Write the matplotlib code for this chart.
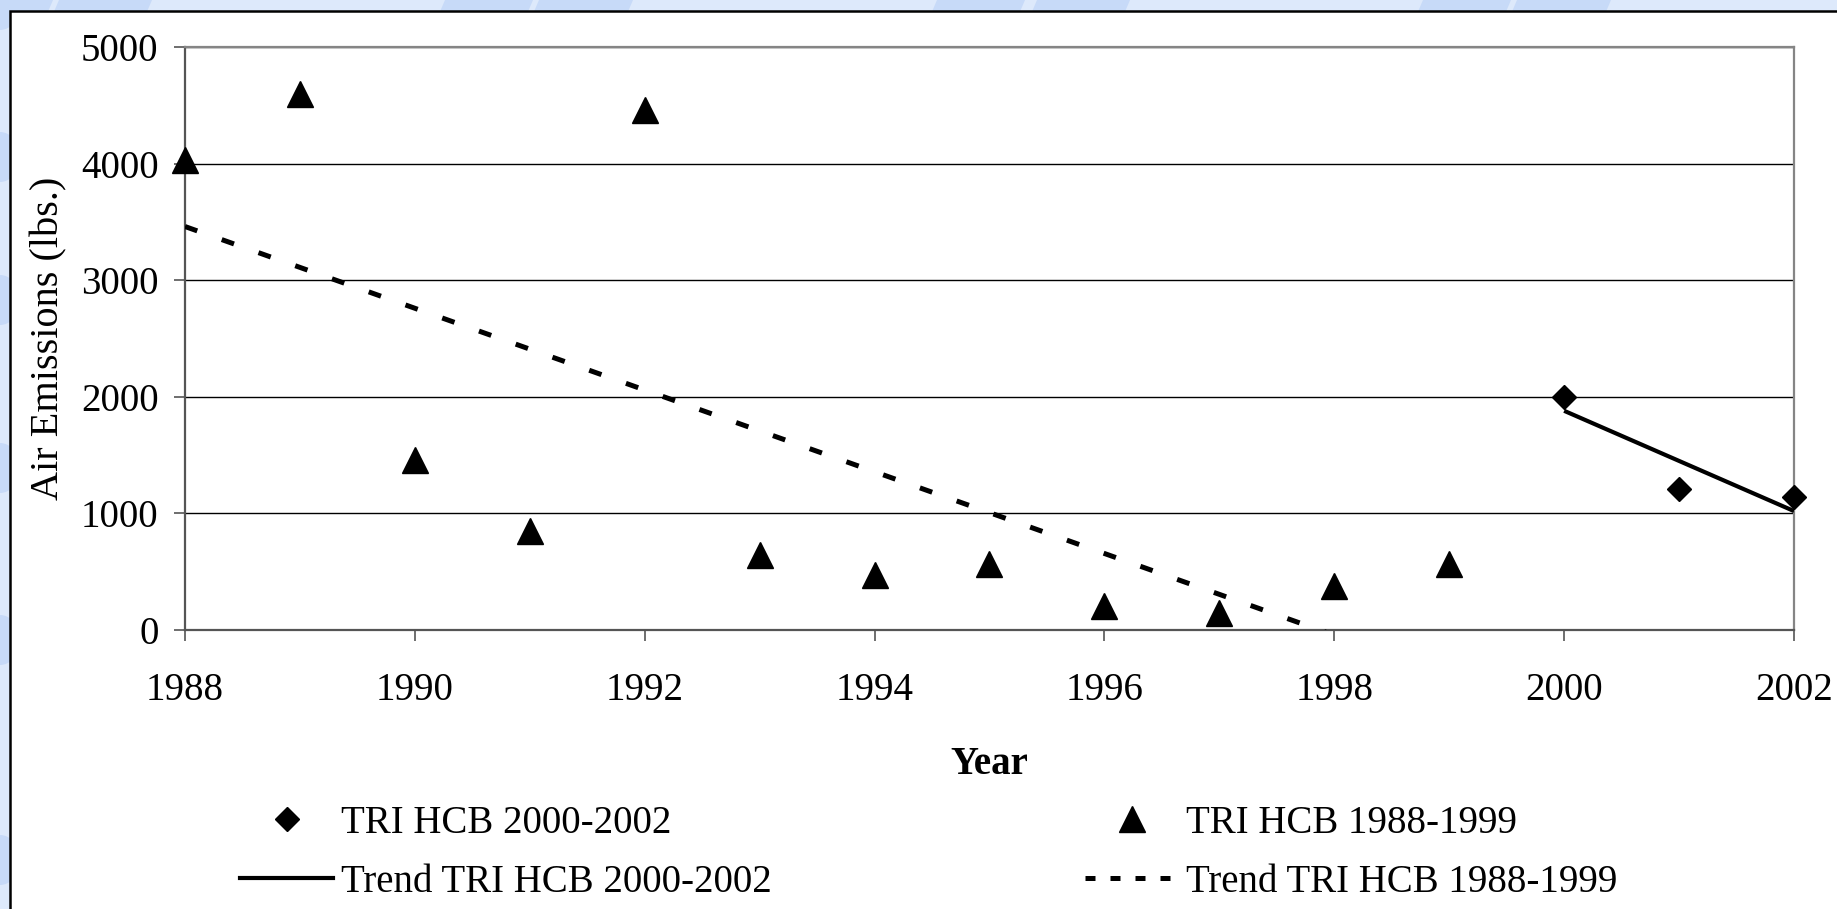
import numpy as np
import matplotlib
matplotlib.use("Agg")
import matplotlib.pyplot as plt
from matplotlib.lines import Line2D
from matplotlib.patches import Rectangle, Polygon, Ellipse

# ---- data ----
years_early = [1988, 1989, 1990, 1991, 1992, 1993, 1994, 1995, 1996, 1997, 1998, 1999]
hcb_early = [4030, 4600, 1460, 850, 4460, 640, 470, 570, 210, 150, 380, 570]
years_late = [2000, 2001, 2002]
hcb_late = [2000, 1210, 1140]
x_ticks = [1988, 1990, 1992, 1994, 1996, 1998, 2000, 2002]
y_ticks = [0, 1000, 2000, 3000, 4000, 5000]
label_late = "TRI HCB 2000-2002"
label_early = "TRI HCB 1988-1999"
label_trend_late = "Trend TRI HCB 2000-2002"
label_trend_early = "Trend TRI HCB 1988-1999"

W, H = 1837, 909
plt.rcParams['font.family'] = ['Liberation Serif', 'DejaVu Serif']
FS = 28

fig = plt.figure(figsize=(W / 100, H / 100), dpi=100)
fig.patch.set_facecolor('#dde9fb')

# decorative background swooshes (top strip)
sw_col = '#c7daf8'
for x0, x1 in [(-20, 53), (59, 152), (445, 533), (539, 633), (937, 1025), (1037, 1130),
               (1423, 1511), (1517, 1611)]:
    poly = Polygon([(x0 / W, 1.0), (x1 / W, 1.0), ((x1 - 6) / W, 1 - 14 / H), ((x0 - 6) / W, 1 - 14 / H)],
                   closed=True, transform=fig.transFigure, facecolor=sw_col, edgecolor='none', zorder=0)
    fig.add_artist(poly)
for yc in [5, 157, 300, 468, 640, 860]:
    e = Ellipse((0, 1 - yc / H), 40 / W, 50 / H, transform=fig.transFigure,
                facecolor=sw_col, edgecolor='none', zorder=0)
    fig.add_artist(e)

# white panel
panel = Rectangle((10 / W, -0.05), 1.2, (1 - 11 / H) + 0.05, transform=fig.transFigure,
                  facecolor='white', edgecolor='black', linewidth=1.8, zorder=0.5)
fig.add_artist(panel)

ax = fig.add_axes([185 / W, 1 - 630 / H, (1794 - 185) / W, (630 - 47) / H])
ax.set_facecolor('white')
ax.set_zorder(1)

ax.set_xlim(1988, 2002)
ax.set_ylim(0, 5000)
ax.set_xticks(x_ticks)
ax.set_yticks(y_ticks)
ax.yaxis.grid(True, color='black', linewidth=1.0)
ax.set_axisbelow(True)

for s in ['left', 'bottom']:
    ax.spines[s].set_color('#555555')
    ax.spines[s].set_linewidth(1.6)
for s in ['right', 'top']:
    ax.spines[s].set_color('#858585')
    ax.spines[s].set_linewidth(1.6)

ax.tick_params(axis='both', direction='out', length=8, width=1.2, color='#555555',
               labelsize=FS, labelcolor='black')
ax.tick_params(axis='x', pad=22)
ax.tick_params(axis='y', pad=11)

# scatter points
ax.plot(years_early, hcb_early, linestyle='none', marker='^', markersize=19,
        color='black', markeredgewidth=1, clip_on=False, zorder=4)
ax.plot(years_late, hcb_late, linestyle='none', marker='D', markersize=12.5,
        color='black', markeredgewidth=1, clip_on=False, zorder=4)

# trend lines (linear least squares)
pe = np.polyfit(years_early, hcb_early, 1)
xe = np.array([years_early[0], years_early[-1]])
ax.plot(xe, np.polyval(pe, xe), color='black', linewidth=3.6, linestyle=(0, (2.6, 5.2)),
        zorder=3)
pl = np.polyfit(years_late, hcb_late, 1)
xl = np.array([years_late[0], years_late[-1]])
ax.plot(xl, np.polyval(pl, xl), color='black', linewidth=3.0, solid_capstyle='butt', zorder=3)

ax.set_xlabel('Year', fontsize=FS, fontweight='bold', labelpad=27)
ax.set_ylabel('Air Emissions (lbs.)', fontsize=29, labelpad=10)

# legends
h_diam = Line2D([], [], linestyle='none', marker='D', markersize=12.5, color='black')
h_sol = Line2D([], [], color='black', linewidth=3.0)
h_tri = Line2D([], [], linestyle='none', marker='^', markersize=19, color='black')
h_dot = Line2D([], [], color='black', linewidth=3.6, linestyle=(0, (2.0, 3.0)))

common = dict(loc='center left', frameon=False, fontsize=FS, borderpad=0, borderaxespad=0,
              handlelength=2.4, handletextpad=0.2, labelspacing=0.57)
leg1 = fig.legend([h_diam, h_sol], [label_late, label_trend_late],
                  bbox_to_anchor=(240 / W, 1 - 853 / H), **common)
leg2 = fig.legend([h_tri, h_dot], [label_early, label_trend_early],
                  bbox_to_anchor=(1085 / W, 1 - 853 / H), **common)

fig.savefig('out.png', dpi=100, facecolor=fig.get_facecolor())
